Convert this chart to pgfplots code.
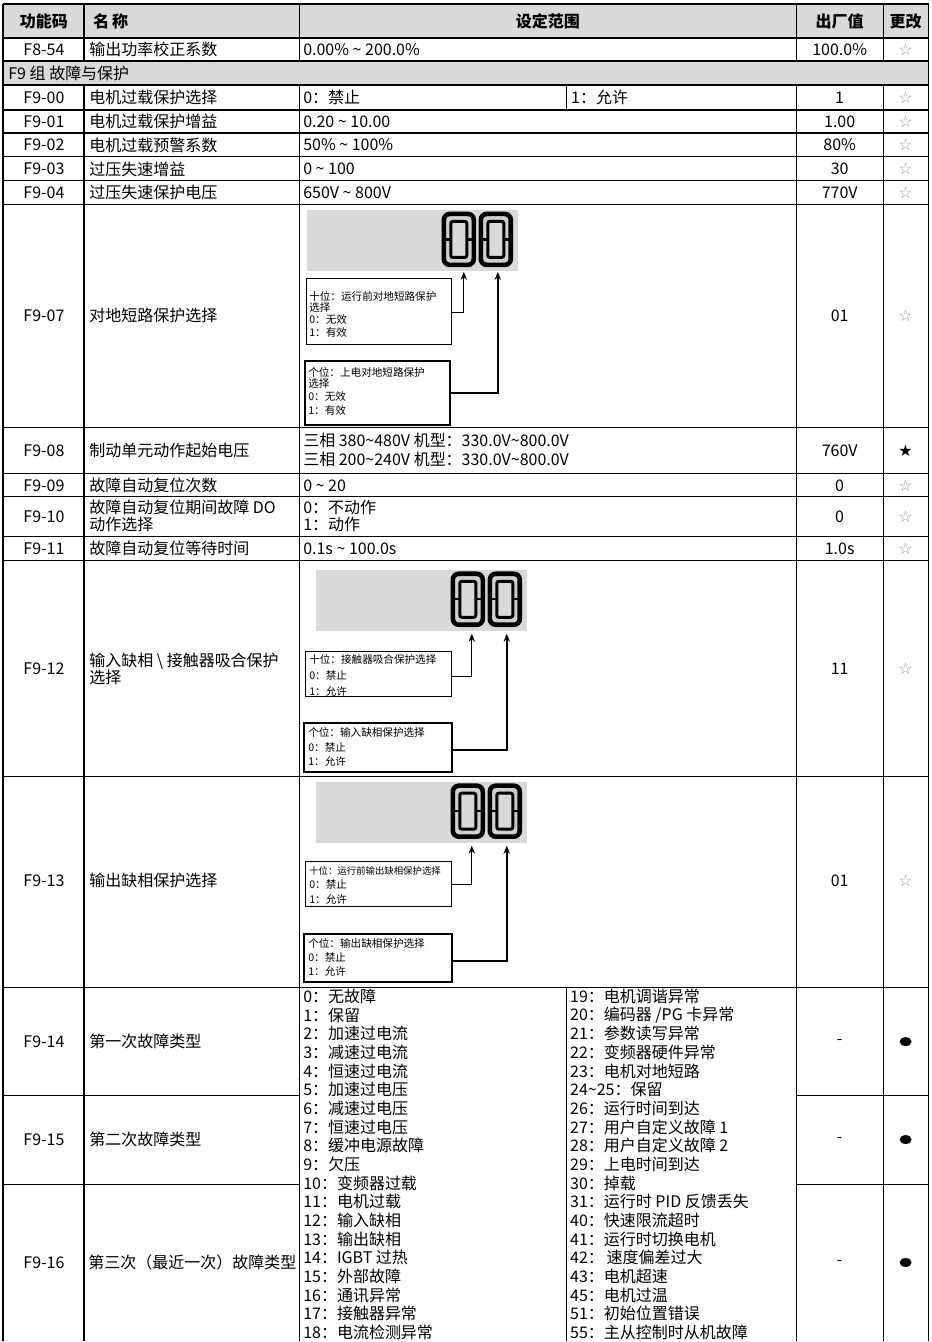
\documentclass[border=0pt]{standalone}
\usepackage{fontspec}
\setmainfont{Noto Sans CJK SC}
\newfontfamily\sym{DejaVu Sans}
\usepackage{pgfplots}
\pgfplotsset{compat=1.18}
\usetikzlibrary{arrows.meta,shapes.geometric}
\definecolor{hdr}{HTML}{D9D9D9}
\definecolor{star}{HTML}{9A9A9A}
\definecolor{seg}{HTML}{CFCFCF}
\newcommand\fs[1]{\fontsize{#1}{#1}\selectfont}
\newcommand\tl{\textasciitilde}
\newcommand\Lt[3]{\node[anchor=west,inner sep=0,font=\fs{8}] at (#1,#2) {#3};}
\newcommand\Ct[3]{\node[inner sep=0,font=\fs{8}] at (#1,#2) {#3};}
\newcommand\Sm[3]{\node[anchor=west,inner sep=0,font=\fs{5.3}] at (#1,#2) {#3};}
\newcommand\Star[1]{\node[inner sep=0,text=star,font=\sym\fs{8}] at (906,#1) {☆};}
\newcommand\Dot[1]{\node[ellipse,fill=black,inner sep=0,minimum width=6pt,minimum height=4.4pt] at (906,#1) {};}
\newcommand\HL[1]{\draw[line width=0.55pt] (3,#1) -- (929,#1);}
% digit: #1 left x, #2 top y
\newcommand\digit[2]{%
  \draw[line width=2.3pt,rounded corners=3pt,fill=seg] (#1,#2) rectangle (#1+30,#2+51);
  \draw[line width=1.5pt,rounded corners=1pt,fill=hdr] (#1+7,#2+7.5) rectangle (#1+23,#2+43.5);
  \draw[line width=1.2pt] (#1,#2+25.5) -- (#1+7,#2+25.5);
  \draw[line width=1.2pt] (#1+23,#2+25.5) -- (#1+30,#2+25.5);
}
% display: #1 left x, #2 top y
\newcommand\disp[2]{%
  \fill[hdr] (#1,#2) rectangle (#1+211,#2+61);
  \digit{#1+137}{#2+4}
  \digit{#1+174}{#2+4}
}
\begin{document}
\begin{tikzpicture}
\begin{axis}[scale only axis, width=466pt, height=671pt,
  xmin=0, xmax=932, ymin=0, ymax=1342, y dir=reverse,
  hide axis, clip=false]
\path (0,0) rectangle (932,1342);
% backgrounds
\fill[hdr] (3,4) rectangle (929,38);
\fill[hdr] (3,61) rectangle (929,85);
% grid lines
\draw[line width=0.55pt] (3,4) -- (3,1342);
\draw[line width=0.55pt] (929,4) -- (929,1342);
\draw[line width=0.55pt] (84,4) -- (84,61); \draw[line width=0.55pt] (84,85) -- (84,1342);
\draw[line width=0.55pt] (300,4) -- (300,61); \draw[line width=0.55pt] (300,85) -- (300,1342);
\draw[line width=0.55pt] (797,4) -- (797,61); \draw[line width=0.55pt] (797,85) -- (797,1342);
\draw[line width=0.55pt] (884,4) -- (884,61); \draw[line width=0.55pt] (884,85) -- (884,1342);
\draw[line width=0.55pt] (567,85) -- (567,110);
\draw[line width=0.55pt] (567,988) -- (567,1342);
\HL{4}\HL{38}\HL{61}\HL{85}\HL{110}\HL{133}\HL{157}\HL{181}\HL{205}\HL{428}\HL{474}\HL{497}\HL{537}\HL{561}\HL{777}\HL{988}
\draw[line width=0.55pt] (3,1096) -- (300,1096); \draw[line width=0.55pt] (797,1096) -- (929,1096);
\draw[line width=0.55pt] (3,1185) -- (300,1185); \draw[line width=0.55pt] (797,1185) -- (929,1185);
% header
\node[inner sep=0,font=\fs{8}\bfseries] at (44,21) {功能码};
\node[anchor=west,inner sep=0,font=\fs{8}\bfseries] at (93,21) {名\,称};
\node[inner sep=0,font=\fs{8}\bfseries] at (548,21) {设定范围};
\node[inner sep=0,font=\fs{8}\bfseries] at (840,21) {出厂值};
\node[inner sep=0,font=\fs{8}\bfseries] at (906,21) {更改};
% F8-54
\Ct{44}{49.5}{F8-54} \Lt{89}{49.5}{输出功率校正系数} \Lt{303}{49.5}{0.00\% \tl{} 200.0\%} \Ct{840}{49.5}{100.0\%} \Star{49.5}
% group
\Lt{8}{73}{F9 组 故障与保护}
% F9-00
\Ct{44}{97.5}{F9-00} \Lt{89}{97.5}{电机过载保护选择} \Lt{303}{97.5}{0：禁止} \Lt{571}{97.5}{1：允许} \Ct{840}{97.5}{1} \Star{97.5}
\Ct{44}{121.5}{F9-01} \Lt{89}{121.5}{电机过载保护增益} \Lt{303}{121.5}{0.20 \tl{} 10.00} \Ct{840}{121.5}{1.00} \Star{121.5}
\Ct{44}{145}{F9-02} \Lt{89}{145}{电机过载预警系数} \Lt{303}{145}{50\% \tl{} 100\%} \Ct{840}{145}{80\%} \Star{145}
\Ct{44}{169}{F9-03} \Lt{89}{169}{过压失速增益} \Lt{303}{169}{0 \tl{} 100} \Ct{840}{169}{30} \Star{169}
\Ct{44}{193}{F9-04} \Lt{89}{193}{过压失速保护电压} \Lt{303}{193}{650V \tl{} 800V} \Ct{840}{193}{770V} \Star{193}
% F9-07
\Ct{44}{316}{F9-07} \Lt{89}{316}{对地短路保护选择} \Ct{840}{316}{01} \Star{316}
\disp{307}{210}
\draw[line width=0.5pt] (307,279) rectangle (452,345);
\draw[line width=1.1pt] (305,361) rectangle (450,425);
\draw[line width=0.5pt,-{Stealth[length=4pt,width=3.2pt]}] (452,313) -- (464,313) -- (464,272);
\draw[line width=1.1pt,-{Stealth[length=4pt,width=3.2pt]}] (450,393) -- (498,393) -- (498,272);
\Sm{309}{297}{十位：运行前对地短路保护} \Sm{309}{307.5}{选择} \Sm{309}{319.5}{0：无效} \Sm{309}{333}{1：有效}
\Sm{308}{373}{个位：上电对地短路保护} \Sm{308}{383.5}{选择} \Sm{308}{397}{0：无效} \Sm{308}{411}{1：有效}
% F9-08
\Ct{44}{451}{F9-08} \Lt{89}{451}{制动单元动作起始电压}
\Lt{303}{441}{三相 380\tl480V 机型：330.0V\tl800.0V} \Lt{303}{460}{三相 200\tl240V 机型：330.0V\tl800.0V}
\Ct{840}{451}{760V} \node[inner sep=0,font=\sym\fs{8}] at (906,451) {★};
% F9-09
\Ct{44}{485.5}{F9-09} \Lt{89}{485.5}{故障自动复位次数} \Lt{303}{485.5}{0 \tl{} 20} \Ct{840}{485.5}{0} \Star{485.5}
% F9-10
\Ct{44}{517}{F9-10} \Lt{89}{508}{故障自动复位期间故障 DO} \Lt{89}{525}{动作选择}
\Lt{303}{508}{0：不动作} \Lt{303}{525}{1：动作} \Ct{840}{517}{0} \Star{517}
% F9-11
\Ct{44}{549}{F9-11} \Lt{89}{549}{故障自动复位等待时间} \Lt{303}{549}{0.1s \tl{} 100.0s} \Ct{840}{549}{1.0s} \Star{549}
% F9-12
\Ct{44}{669}{F9-12} \Lt{89}{661}{输入缺相 \textbackslash{} 接触器吸合保护} \Lt{89}{678}{选择} \Ct{840}{669}{11} \Star{669}
\disp{316}{570}
\draw[line width=0.5pt] (306,652) rectangle (452,697);
\draw[line width=1.1pt] (304,723) rectangle (452,772);
\draw[line width=0.5pt,-{Stealth[length=4pt,width=3.2pt]}] (452,677) -- (472,677) -- (472,634);
\draw[line width=1.1pt,-{Stealth[length=4pt,width=3.2pt]}] (452,750) -- (507,750) -- (507,634);
\Sm{309}{660}{十位：接触器吸合保护选择} \Sm{309}{676}{0：禁止} \Sm{309}{692}{1：允许}
\Sm{308}{733}{个位：输入缺相保护选择} \Sm{308}{748}{0：禁止} \Sm{308}{762}{1：允许}
% F9-13
\Ct{44}{881}{F9-13} \Lt{89}{881}{输出缺相保护选择} \Ct{840}{881}{01} \Star{881}
\disp{316}{782}
\draw[line width=0.5pt] (306,862) rectangle (452,907);
\draw[line width=1.1pt] (304,934) rectangle (452,982);
\draw[line width=0.5pt,-{Stealth[length=4pt,width=3.2pt]}] (452,885) -- (472,885) -- (472,846);
\draw[line width=1.1pt,-{Stealth[length=4pt,width=3.2pt]}] (452,961) -- (507,961) -- (507,846);
\node[anchor=west,inner sep=0,font=\fs{4.7}] at (309,871) {十位：运行前输出缺相保护选择};
\Sm{309}{885}{0：禁止} \Sm{309}{900}{1：允许}
\Sm{308}{944}{个位：输出缺相保护选择} \Sm{308}{958}{0：禁止} \Sm{308}{972}{1：允许}
% F9-14..16
\Ct{44}{1042}{F9-14} \Lt{89}{1042}{第一次故障类型} \Ct{840}{1042}{-} \Dot{1042}
\Ct{44}{1140}{F9-15} \Lt{89}{1140}{第二次故障类型} \Ct{840}{1140}{-} \Dot{1140}
\Ct{44}{1263}{F9-16} \Lt{88}{1263}{第三次（最近一次）故障类型} \Ct{840}{1263}{-} \Dot{1263}
% fault list left
\Lt{303}{997}{0：无故障}
\Lt{303}{1015.7}{1：保留}
\Lt{303}{1034.3}{2：加速过电流}
\Lt{303}{1053}{3：减速过电流}
\Lt{303}{1071.7}{4：恒速过电流}
\Lt{303}{1090.3}{5：加速过电压}
\Lt{303}{1109}{6：减速过电压}
\Lt{303}{1127.7}{7：恒速过电压}
\Lt{303}{1146.3}{8：缓冲电源故障}
\Lt{303}{1165}{9：欠压}
\Lt{303}{1183.7}{10：变频器过载}
\Lt{303}{1202.3}{11：电机过载}
\Lt{303}{1221}{12：输入缺相}
\Lt{303}{1239.7}{13：输出缺相}
\Lt{303}{1258.3}{14：IGBT 过热}
\Lt{303}{1277}{15：外部故障}
\Lt{303}{1295.7}{16：通讯异常}
\Lt{303}{1314.3}{17：接触器异常}
\Lt{303}{1333}{18：电流检测异常}
% fault list right
\Lt{570}{997}{19：电机调谐异常}
\Lt{570}{1015.7}{20：编码器 /PG 卡异常}
\Lt{570}{1034.3}{21：参数读写异常}
\Lt{570}{1053}{22：变频器硬件异常}
\Lt{570}{1071.7}{23：电机对地短路}
\Lt{570}{1090.3}{24\tl25：保留}
\Lt{570}{1109}{26：运行时间到达}
\Lt{570}{1127.7}{27：用户自定义故障 1}
\Lt{570}{1146.3}{28：用户自定义故障 2}
\Lt{570}{1165}{29：上电时间到达}
\Lt{570}{1183.7}{30：掉载}
\Lt{570}{1202.3}{31：运行时 PID 反馈丢失}
\Lt{570}{1221}{40：快速限流超时}
\Lt{570}{1239.7}{41：运行时切换电机}
\Lt{570}{1258.3}{42：\,速度偏差过大}
\Lt{570}{1277}{43：电机超速}
\Lt{570}{1295.7}{45：电机过温}
\Lt{570}{1314.3}{51：初始位置错误}
\Lt{570}{1333}{55：主从控制时从机故障}
\end{axis}
\end{tikzpicture}
\end{document}
